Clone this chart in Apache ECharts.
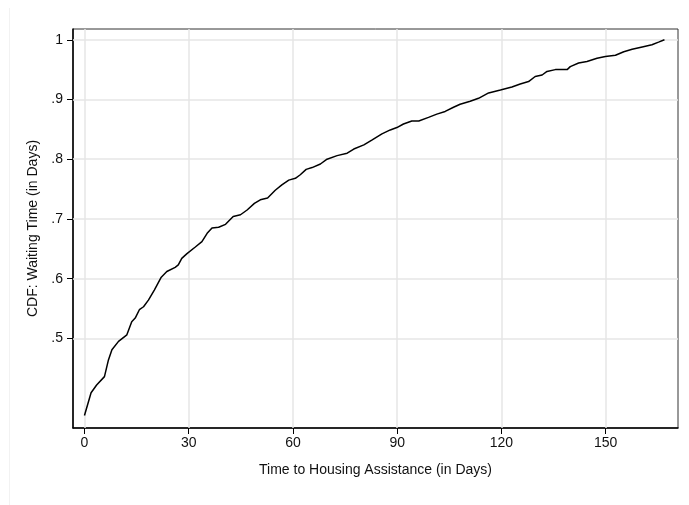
<!DOCTYPE html>
<html>
<head>
<meta charset="utf-8">
<script src="https://cdn.jsdelivr.net/npm/echarts@6/dist/echarts.min.js"></script>
<style>html,body{margin:0;padding:0;background:#fff;}#c{width:689px;height:505px;}</style>
</head>
<body>
<div id="c"></div>
<script>
// Data
var days = [0, 1.9, 3.5, 5.75, 6.9, 7.9, 9.8, 12.2, 13.6, 14.6, 15.8, 17, 18.4, 20.1, 22.1, 23.7, 26.1, 27, 28, 29.5,
  31.9, 33.8, 35.3, 36.7, 38.6, 40.6, 42.8, 44.9, 46.8, 48.9, 50.6, 52.7, 54.9, 56.8, 58.8, 60.7, 62.1, 63.8, 65.5,
  67.9, 69.8, 72.7, 75.6, 77.5, 80.4, 82.8, 85.6, 88, 89.9, 91.8, 94.2, 96.2, 99, 101.4, 103.8, 106.2, 108.1,
  111, 113.4, 116.3, 119.7, 123, 125.4, 127.8, 129.7, 131.7, 133.1, 135.5, 138.9, 139.8, 142.2, 144.6, 147.5,
  149.9, 152.8, 155.2, 157.6, 160.5, 163.3, 165.2, 166.9];
var cdf = [0.371, 0.409, 0.422, 0.436, 0.464, 0.481, 0.495, 0.506, 0.528, 0.534, 0.548, 0.553, 0.564, 0.581, 0.6025, 0.612, 0.619, 0.623, 0.634, 0.642,
  0.653, 0.662, 0.676, 0.685, 0.686, 0.691, 0.704, 0.707, 0.715, 0.726, 0.732, 0.735, 0.748, 0.757, 0.765, 0.768, 0.774, 0.783, 0.786,
  0.792, 0.800, 0.806, 0.810, 0.817, 0.824, 0.8325, 0.8425, 0.849, 0.853, 0.859, 0.864, 0.864, 0.870, 0.8755, 0.880, 0.887, 0.892,
  0.897, 0.902, 0.911, 0.916, 0.921, 0.926, 0.930, 0.9385, 0.941, 0.947, 0.950, 0.950, 0.955, 0.961, 0.9637, 0.969,
  0.972, 0.974, 0.980, 0.984, 0.988, 0.9916, 0.996, 1.0];
var xTicks = [0, 30, 60, 90, 120, 150];
var yTicks = [0.5, 0.6, 0.7, 0.8, 0.9, 1];
var yLabels = ['.5', '.6', '.7', '.8', '.9', '1'];
var xTitle = 'Time to Housing Assistance (in Days)';
var yTitle = 'CDF: Waiting Time (in Days)';

var pts = days.map(function (d, i) { return [d, cdf[i]]; });
var gridColor = '#e6e6e6';
var font = 'Liberation Sans, Arial, sans-serif';

var chart = echarts.init(document.getElementById('c'), null, {renderer: 'canvas'});
chart.setOption({
  animation: false,
  backgroundColor: '#ffffff',
  graphic: [{
    type: 'line', shape: {x1: 9.5, y1: 8, x2: 9.5, y2: 505},
    style: {stroke: '#f2f2f2', lineWidth: 1}, silent: true
  }],
  grid: {left: 73, top: 29, right: 11, bottom: 77, show: true, borderColor: '#333', borderWidth: 1, backgroundColor: '#fff'},
  xAxis: {
    type: 'value', min: -3.3, max: 170.8,
    name: xTitle, nameLocation: 'middle', nameGap: 35,
    nameTextStyle: {fontFamily: font, fontSize: 14, color: '#111'},
    axisLine: {show: true, onZero: false, lineStyle: {color: '#000', width: 1.5}},
    axisTick: {show: true, length: 6, customValues: xTicks, lineStyle: {color: '#000', width: 1}},
    axisLabel: {customValues: xTicks, fontFamily: font, fontSize: 14, color: '#111', margin: 8,
      formatter: function (v) { return String(v); }},
    splitLine: {show: false}
  },
  yAxis: {
    type: 'value', min: 0.35, max: 1.018,
    name: yTitle, nameLocation: 'middle', nameGap: 26, nameRotate: 90,
    nameTextStyle: {fontFamily: font, fontSize: 14, color: '#111'},
    axisLine: {show: true, onZero: false, lineStyle: {color: '#000', width: 1.5}},
    axisTick: {show: true, length: 6, customValues: yTicks, lineStyle: {color: '#000', width: 1}},
    axisLabel: {customValues: yTicks, fontFamily: font, fontSize: 14, color: '#111', margin: 10,
      formatter: function (v) {
        var i = yTicks.findIndex(function (t) { return Math.abs(t - v) < 1e-6; });
        return i >= 0 ? yLabels[i] : '';
      }},
    splitLine: {show: false}
  },
  series: [{
    type: 'line', data: [], silent: true, z: 1,
    markLine: {
      silent: true, symbol: 'none', label: {show: false}, animation: false,
      lineStyle: {color: gridColor, width: 1.5, type: 'solid'},
      data: xTicks.map(function (t) { return {xAxis: t}; }).concat(
        yTicks.map(function (t) { return {yAxis: t}; }))
    }
  }, {
    type: 'line', data: pts, showSymbol: false, smooth: false, z: 5,
    lineStyle: {color: '#000', width: 1.5}
  }]
});
</script>
</body>
</html>
